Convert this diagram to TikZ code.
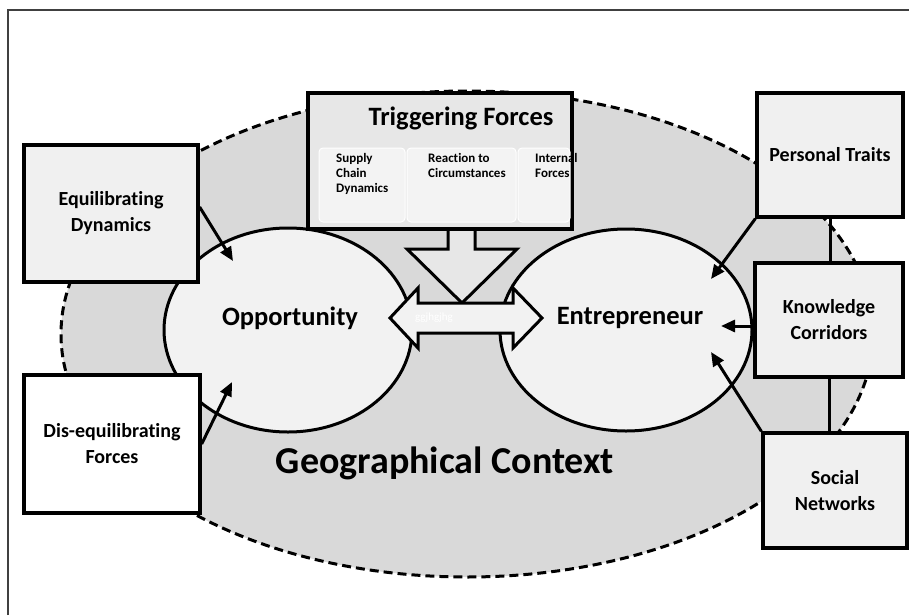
\documentclass[tikz,border=0pt]{standalone}
\usepackage{fontspec}
\setmainfont{Carlito}[Ligatures=NoCommon]
\usetikzlibrary{shapes.geometric,arrows.meta,calc}
\definecolor{geofill}{HTML}{D9D9D9}
\definecolor{elfill}{HTML}{F2F2F2}
\definecolor{boxfill}{HTML}{F0F0F0}
\definecolor{trigfill}{HTML}{E7E7E7}
\definecolor{subfill}{HTML}{F3F3F3}
\definecolor{framec}{HTML}{404040}
\begin{document}
\begin{tikzpicture}[x=1pt,y=-1pt,
  sidebox/.style={draw=black,line width=3.3pt,fill=boxfill,inner sep=0pt,align=center,
    font=\fontsize{20}{26}\selectfont\bfseries},
  oval/.style={ellipse,draw=black,line width=3pt,fill=elfill,inner sep=0pt},
  subbox/.style={draw=white,line width=1pt,fill=subfill,rounded corners=4pt,inner sep=0pt,minimum height=74pt},
  subtext/.style={anchor=north west,inner sep=0pt,align=left,font=\fontsize{13}{15}\selectfont\bfseries},
  blockarrow/.style={draw=black,line width=3pt,line join=miter},
  conn/.style={draw=black,line width=3pt,-{Triangle[length=14pt,width=12pt]}},
  plainconn/.style={draw=black,line width=3pt},
  bigtext/.style={inner sep=0pt,font=\fontsize{26.5}{30}\selectfont\bfseries}
]
\useasboundingbox (0,0) rectangle (909,615);
% frame
\draw[framec,line width=2pt] (8,615) -- (8,10) -- (909,10);
% geographical context
\node[ellipse,draw=black,line width=3pt,dash pattern=on 9pt off 5pt,fill=geofill,
  minimum width=812pt,minimum height=486pt,inner sep=0pt] (geo) at (467,334) {};
% opportunity and entrepreneur
\node[oval,minimum width=248pt,minimum height=204pt] (opp) at (288,330) {};
\node[oval,minimum width=252pt,minimum height=202pt] (ent) at (626,330) {};
% down arrow
\draw[blockarrow,fill=trigfill] (448,226) -- (448,249) -- (407,249) -- (462,303) -- (517,249) -- (475,249) -- (475,226) -- cycle;
% double arrow
\draw[blockarrow,fill=elfill] (390,318) -- (418,288) -- (418,303) -- (513,303) -- (513,288) -- (542,318)
  -- (513,348) -- (513,333) -- (418,333) -- (418,348) -- cycle;
\node[inner sep=0pt,text=white,font=\fontsize{11}{12}\selectfont] (ghost) at (434,318) {ggjhgjhg};
% triggering forces
\node[draw=black,line width=3.3pt,fill=trigfill,minimum width=264pt,minimum height=136pt,inner sep=0pt] (trig) at (440,161) {};
\node[bigtext,anchor=base] (trigT) at (461,125) {Triggering Forces};
\node[subbox,minimum width=86pt] (s1) at (362,185) {};
\node[subbox,minimum width=109pt] (s2) at (461.5,185) {};
\node[subbox,minimum width=52pt] (s3) at (544,185) {};
\node[subtext] (s1T) at (336,153) {Supply\\Chain\\Dynamics};
\node[subtext] (s2T) at (428,153) {Reaction to\\Circumstances};
\node[subtext] (s3T) at (535,153) {Internal\\Forces};
% side boxes
\node[sidebox,minimum width=174pt,minimum height=137pt] (eq) at (111,213.5) {Equilibrating\\Dynamics};
\node[sidebox,fill=white,minimum width=176pt,minimum height=138pt] (dis) at (112,444) {Dis-equilibrating\\Forces};
\node[sidebox,minimum width=146pt,minimum height=124pt] (pt) at (830,155) {Personal Traits};
\node[sidebox,minimum width=148pt,minimum height=114pt] (kc) at (829,320) {Knowledge\\Corridors};
\node[sidebox,minimum width=144pt,minimum height=115pt] (sn) at (835,490.5) {Social\\Networks};
% vertical links between right boxes
\draw[plainconn] (pt.south) -- (pt.south |- kc.north);
\draw[plainconn] (kc.south) -- (kc.south |- sn.north);
% arrow tips
\coordinate (tEq) at (233,261);
\coordinate (tDis) at (232,382);
\coordinate (tPt) at (711,279);
\coordinate (tKc) at (721,326);
\coordinate (tSn) at (711,352);
\draw[conn] (eq.east |- 0,207) -- (tEq);
\draw[conn] (dis.east) -- (tDis);
\draw[conn] (pt.south west) -- (tPt);
\draw[conn] (kc.west |- tKc) -- (tKc);
\draw[conn] (sn.north west) -- (tSn);
% texts
\node[bigtext] (oppT) at (290,318) {Opportunity};
\node[bigtext] (entT) at (630,318) {Entrepreneur};
\node[inner sep=0pt,font=\fontsize{38}{44}\selectfont\bfseries] (geoT) at (445,463) {Geographical Context};
\end{tikzpicture}
\end{document}
